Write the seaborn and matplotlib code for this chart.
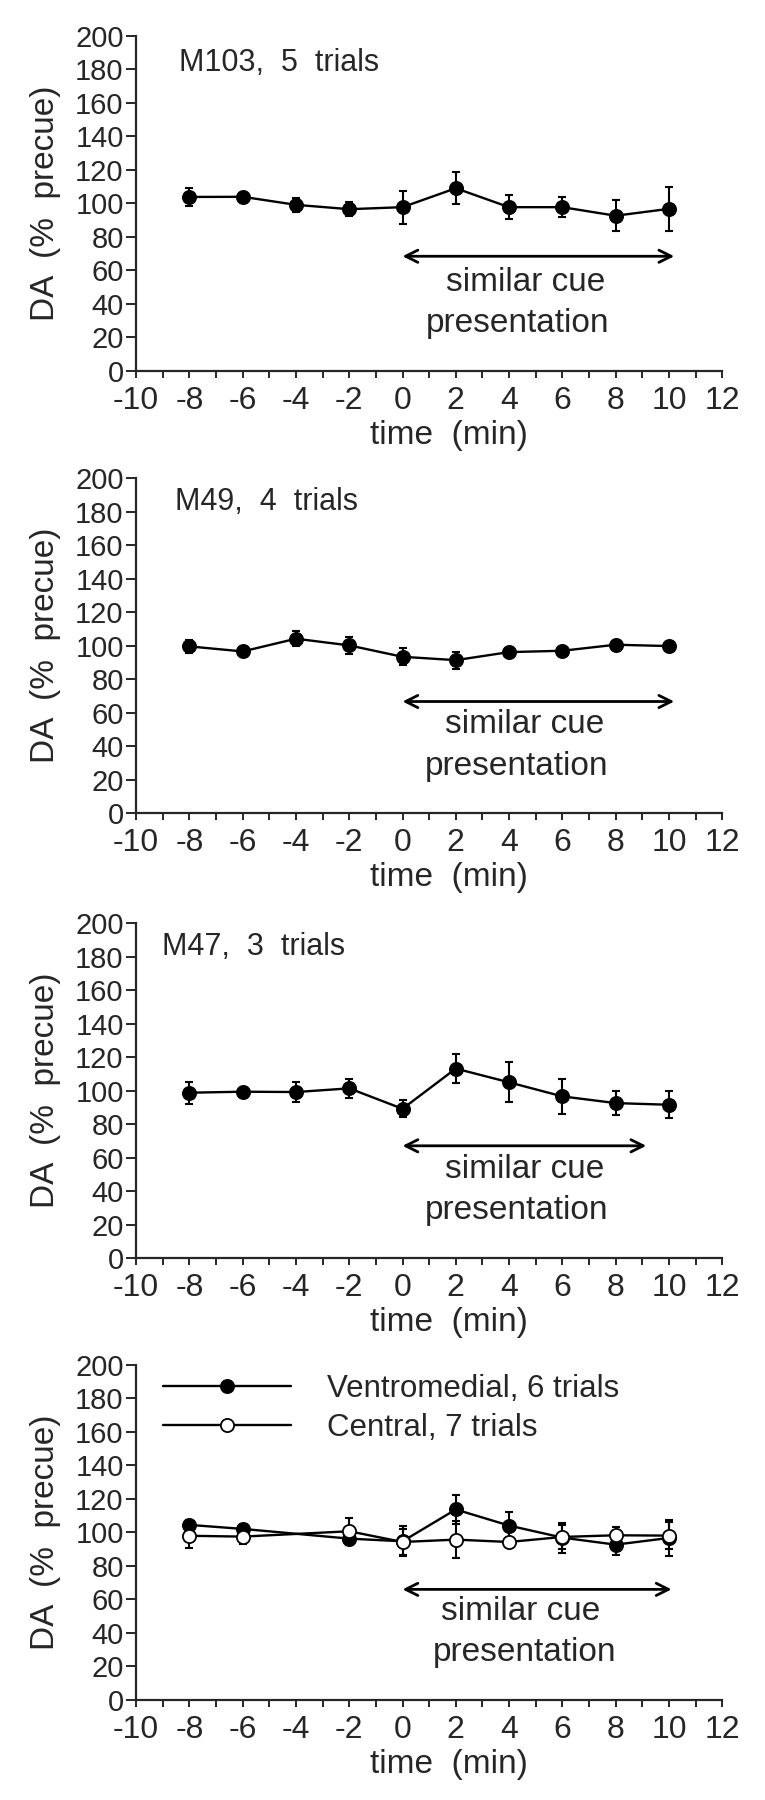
import matplotlib
matplotlib.use("Agg")
import matplotlib.pyplot as plt
import pandas as pd
import seaborn as sns

# time points (min) relative to cue
times = [-8, -6, -4, -2, 0, 2, 4, 6, 8, 10]
times_pooled = [-8, -6, -2, 0, 2, 4, 6, 8, 10]

# DA (% precue), mean and error per animal
m103_mean = [103.9, 104.0, 99.2, 96.6, 97.8, 109.1, 97.8, 97.8, 92.7, 96.8]
m103_err = [5.4, 1.0, 4.0, 4.0, 9.9, 9.5, 7.3, 6.0, 9.1, 13.3]

m49_mean = [99.5, 96.5, 104.1, 100.1, 93.3, 91.3, 96.1, 96.9, 100.5, 99.7]
m49_err = [4.0, 2.0, 4.5, 5.0, 5.0, 5.0, 1.0, 1.5, 1.0, 1.0]

m47_mean = [98.7, 99.3, 99.1, 101.3, 89.1, 113.1, 104.9, 96.5, 92.5, 91.5]
m47_err = [6.5, 1.5, 6.0, 5.5, 5.0, 8.5, 12.0, 10.5, 7.0, 8.0]

# pooled by recording site
ventromedial_mean = [104.5, 102.1, 96.3, 94.7, 113.7, 104.1, 96.9, 92.7, 96.7]
ventromedial_err = [3.0, 3.0, 4.0, 9.0, 8.5, 8.0, 9.0, 6.0, 11.0]
central_mean = [98.0, 97.5, 100.7, 94.3, 95.7, 94.3, 97.3, 98.3, 98.1]
central_err = [7.0, 4.5, 8.0, 8.0, 11.0, 2.0, 7.0, 5.0, 8.0]

panel_titles = ["M103,  5  trials", "M49,  4  trials", "M47,  3  trials", None]
legend_labels = ["Ventromedial, 6 trials", "Central, 7 trials"]

# annotation placement per panel
title_x = [-8.38, -8.53, -9.03, None]
title_y = [179, 181, 181, None]
arrow_end = [10.2, 10.2, 9.15, 10.1]
arrow_y = [68.5, 66.6, 67.0, 66.0]
cue_x = [4.62, 4.6, 4.6, 4.45]
pres_x = [4.31, 4.28, 4.28, 4.6]

sns.set_style("ticks")
plt.rcParams["font.family"] = ["Liberation Sans", "DejaVu Sans"]
plt.rcParams["axes.unicode_minus"] = False

fig = plt.figure(figsize=(7.65, 18), dpi=100)
bottoms = [0.7939, 0.5483, 0.3011, 0.0556]
axes = [fig.add_axes([0.178, b, 0.766, 0.1861]) for b in bottoms]


def draw_series(ax, t, mean, err, face):
    df = pd.DataFrame({"time": t, "DA": mean})
    ax.errorbar(t, mean, yerr=err, fmt="none", ecolor="black",
                elinewidth=1.5, capsize=3, capthick=1.5, zorder=2)
    sns.lineplot(data=df, x="time", y="DA", ax=ax, color="black", lw=1.7,
                 marker="o", markersize=9.5, markerfacecolor=face,
                 markeredgecolor="black", markeredgewidth=1.3, zorder=3)
    return ax.lines[-1]


series = [
    [(times, m103_mean, m103_err, "black")],
    [(times, m49_mean, m49_err, "black")],
    [(times, m47_mean, m47_err, "black")],
    [(times_pooled, ventromedial_mean, ventromedial_err, "black"),
     (times_pooled, central_mean, central_err, "white")],
]

for i, ax in enumerate(axes):
    handles = [draw_series(ax, *s) for s in series[i]]

    ax.set_xlim(-10, 12)
    ax.set_ylim(0, 200)
    ax.set_xticks(range(-10, 13, 2))
    ax.set_xticks(range(-9, 12, 2), minor=True)
    ax.set_yticks(range(0, 201, 20))
    sns.despine(ax=ax)
    for sp in ax.spines.values():
        sp.set_linewidth(1.6)
    ax.tick_params(axis="x", which="both", length=5, width=1.4, pad=6, labelsize=23)
    ax.tick_params(axis="y", length=7, width=1.4, pad=2, labelsize=21)

    ax.set_xlabel("time  (min)", fontsize=24)
    ax.xaxis.set_label_coords(0.533, -0.146)
    ax.set_ylabel("DA  (%  precue)", fontsize=24)
    ax.yaxis.set_label_coords(-0.128, 0.5)

    if panel_titles[i]:
        ax.text(title_x[i], title_y[i], panel_titles[i], fontsize=22,
                va="baseline", ha="left")
    else:
        ax.legend(handles, legend_labels, loc="upper left",
                  bbox_to_anchor=(0.046, 0.972), frameon=False,
                  prop={"size": 22.5},
                  handlelength=4.1, handletextpad=1.15, labelspacing=0.28,
                  borderpad=0, borderaxespad=0)

    ax.annotate("", xy=(0, arrow_y[i]), xytext=(arrow_end[i], arrow_y[i]),
                arrowprops=dict(arrowstyle="<->", lw=2, color="black",
                                shrinkA=0, shrinkB=0, mutation_scale=22))
    ax.text(cue_x[i], 48, "similar cue", fontsize=24,
            ha="center", va="baseline")
    ax.text(pres_x[i], 23, "presentation", fontsize=24,
            ha="center", va="baseline")

fig.savefig("out.png", dpi=100)
plt.close(fig)
